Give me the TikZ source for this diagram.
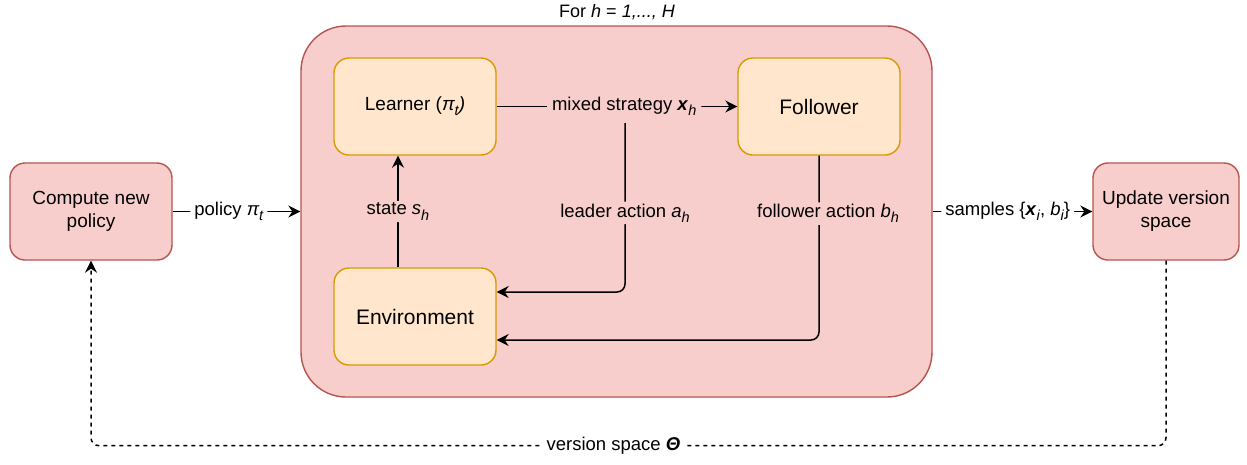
\documentclass[tikz,border=0pt]{standalone}
\usepackage{fontspec}
\setmainfont{Liberation Sans}
\usetikzlibrary{arrows.meta}
\definecolor{redfill}{HTML}{F8CECC}
\definecolor{redline}{HTML}{B85450}
\definecolor{orfill}{HTML}{FFE6CC}
\definecolor{orline}{HTML}{D79B00}
\newcommand\mysub[1]{\raisebox{-0.28em}{\fontsize{14.5}{15}\selectfont #1}}
\begin{document}
\begin{tikzpicture}[x=1pt,y=-1pt,
  obox/.style={draw=orline, fill=orfill, line width=1.4pt, rounded corners=15pt,
    minimum width=162pt, minimum height=97pt, align=center, inner sep=0pt,
    font=\fontsize{19}{23}\selectfont},
  rbox/.style={draw=redline, fill=redfill, line width=1.4pt, rounded corners=15pt,
    minimum height=97pt, align=center, inner sep=0pt,
    font=\fontsize{19}{23}\selectfont},
  plbl/.style={fill=redfill, inner xsep=5pt, inner ysep=2pt, font=\fontsize{18.5}{22}\selectfont},
  wlbl/.style={fill=white, inner xsep=4pt, inner ysep=2pt, font=\fontsize{18.5}{22}\selectfont},
  conn/.style={line width=1.5pt, -{Stealth[length=12pt,width=12pt,inset=4pt]}, rounded corners=8pt},
  dconn/.style={conn, dash pattern=on 4pt off 4pt},
]
\useasboundingbox (0,0) rectangle (1247,464);
\fill[white] (0,0) rectangle (1247,464);

% outer loop box
\node[draw=redline, fill=redfill, line width=1.4pt, rounded corners=45pt,
  minimum width=631pt, minimum height=371pt, inner sep=0pt] (outer) at (616.5,211.5) {};
\node[font=\fontsize{18}{21}\selectfont] (title) at (617,12) {For \textit{h} = \textit{1,..., H}};

% inner boxes
\node[obox] (learner) at (415,106.5) {Learner (\textit{π\mysub{t})}};
\node[obox, font=\fontsize{21}{25}\selectfont] (follower) at (819,106.5) {Follower};
\node[obox, font=\fontsize{21}{25}\selectfont] (env) at (415,316.5) {Environment};

% outer boxes
\node[rbox, minimum width=162pt] (compute) at (91,211.5) {Compute new\\policy};
\node[rbox, minimum width=146pt] (update) at (1166,211.5) {Update version\\space};

\coordinate (ls) at (625,123);

% connectors
\draw[conn] (learner) -- node[plbl, pos=0.53] {mixed strategy \textbf{\textit{x}}\mysub{\textit{h}}} (follower);
\draw[conn] ([xshift=-17pt]env.north) -- node[plbl] {state \textit{s\mysub{h}}} ([xshift=-17pt]learner.south);
\draw[conn] (ls) |- node[plbl, pos=0.266] {leader action \textit{a\mysub{h}}} ([yshift=24.5pt]env.east);
\draw[conn] (follower.south) |- node[plbl, pos=0.157, xshift=9pt] {follower action \textit{b\mysub{h}}} ([yshift=-23.5pt]env.east);
\draw[conn] (compute) -- node[wlbl, pos=0.44] {policy \textit{π\mysub{t}}} (outer);
\draw[conn] (outer) -- node[wlbl, pos=0.47] {samples \{\textbf{\textit{x}}\mysub{\textit{i}}, \textit{b\mysub{i}}\}} (update);
\draw[dconn] (update.south) -- ++(0,185) -| node[wlbl, pos=0.257] {version space \textbf{\textit{Θ}}} (compute.south);
\end{tikzpicture}
\end{document}
